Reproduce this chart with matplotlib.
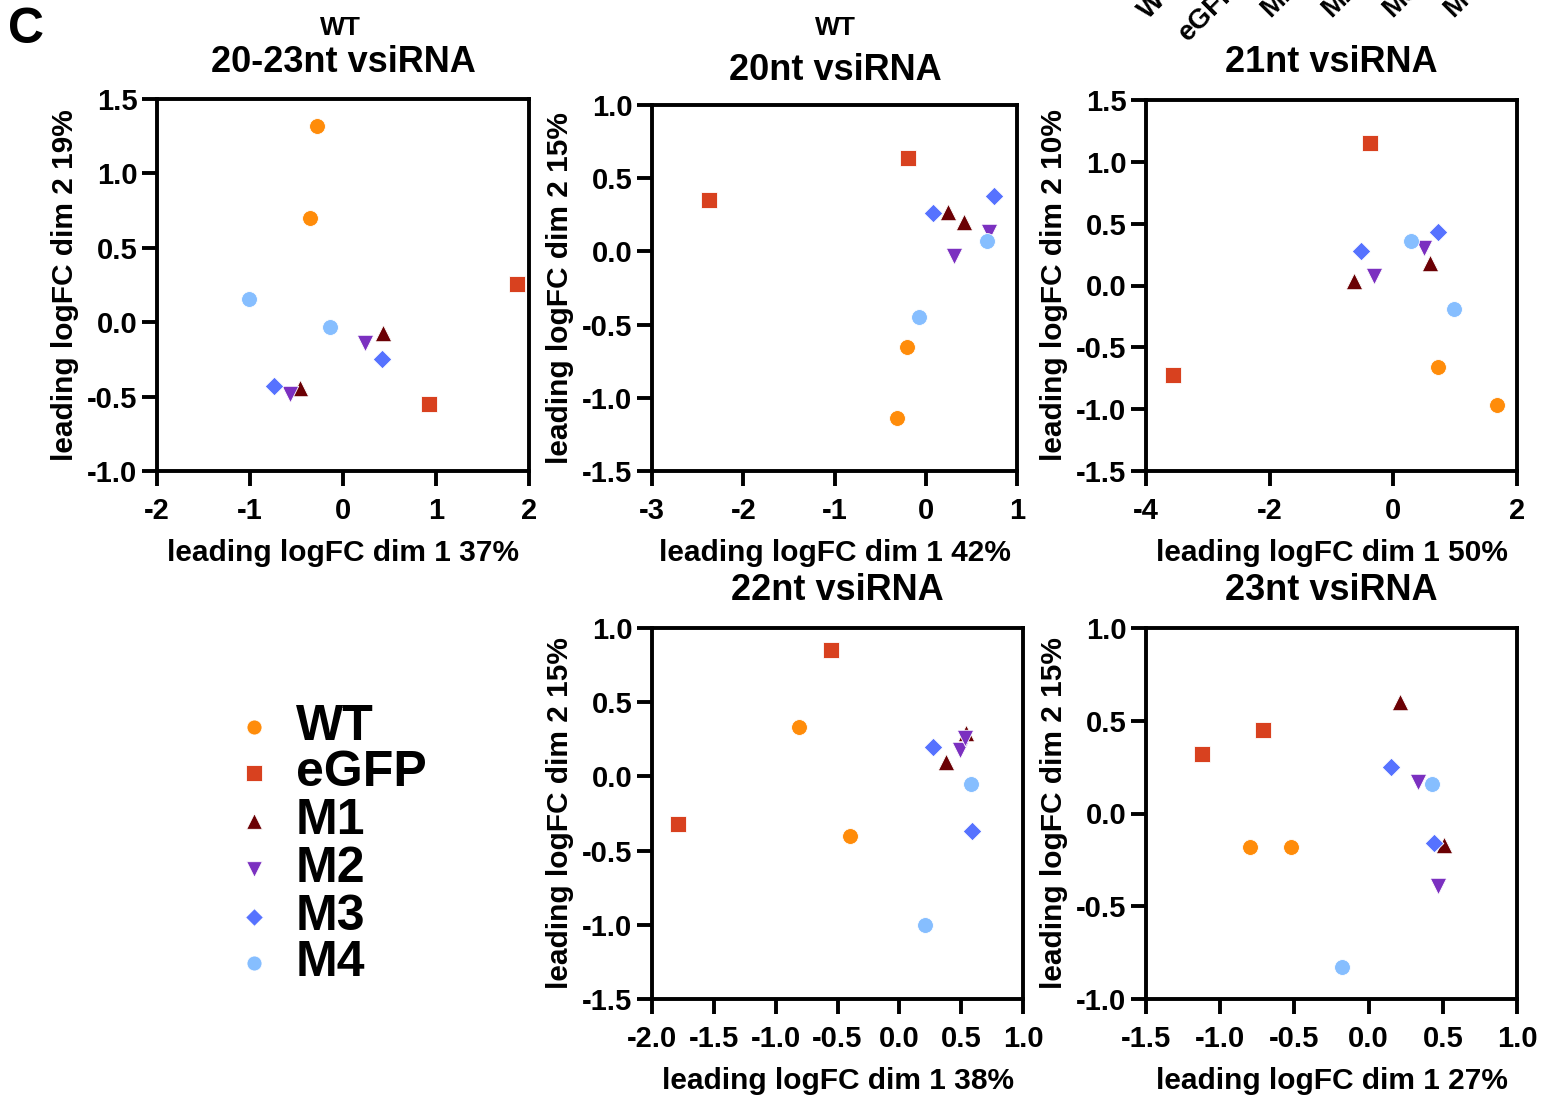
import numpy as np
import matplotlib.pyplot as plt

plt.rcParams['font.family'] = ['Liberation Sans', 'DejaVu Sans']
plt.rcParams['font.weight'] = 'bold'

W, H = 1559, 1098

groups = ['WT', 'eGFP', 'M1', 'M2', 'M3', 'M4']
colors = ['#FF8C0A', '#D8411F', '#6B0004', '#7B30C0', '#5672FF', '#86BEFF']
markers = ['o', 's', '^', 'v', 'D', 'o']
msizes = [130, 130, 140, 140, 90, 130]

# two replicates per group, (x, y) for each panel
all_x = {'WT': [-0.28, -0.36], 'eGFP': [1.87, 0.93], 'M1': [0.43, -0.46],
         'M2': [0.24, -0.57], 'M3': [0.42, -0.74], 'M4': [-1.01, -0.14]}
all_y = {'WT': [1.32, 0.70], 'eGFP': [0.255, -0.55], 'M1': [-0.07, -0.44],
         'M2': [-0.14, -0.48], 'M3': [-0.25, -0.43], 'M4': [0.155, -0.03]}

nt20_x = {'WT': [-0.21, -0.31], 'eGFP': [-2.38, -0.19], 'M1': [0.24, 0.42],
          'M2': [0.31, 0.69], 'M3': [0.08, 0.75], 'M4': [0.67, -0.07]}
nt20_y = {'WT': [-0.655, -1.14], 'eGFP': [0.35, 0.64], 'M1': [0.27, 0.20],
          'M2': [-0.03, 0.13], 'M3': [0.26, 0.38], 'M4': [0.07, -0.45]}

nt21_x = {'WT': [0.73, 1.67], 'eGFP': [-0.38, -3.56], 'M1': [-0.64, 0.60],
          'M2': [0.50, -0.32], 'M3': [-0.53, 0.72], 'M4': [0.29, 0.98]}
nt21_y = {'WT': [-0.66, -0.965], 'eGFP': [1.15, -0.72], 'M1': [0.04, 0.185],
          'M2': [0.30, 0.08], 'M3': [0.28, 0.43], 'M4': [0.36, -0.19]}

nt22_x = {'WT': [-0.81, -0.40], 'eGFP': [-0.55, -1.79], 'M1': [0.375, 0.54],
          'M2': [0.49, 0.53], 'M3': [0.27, 0.59], 'M4': [0.58, 0.21]}
nt22_y = {'WT': [0.33, -0.40], 'eGFP': [0.85, -0.32], 'M1': [0.10, 0.29],
          'M2': [0.18, 0.26], 'M3': [0.20, -0.37], 'M4': [-0.05, -1.0]}

nt23_x = {'WT': [-0.80, -0.52], 'eGFP': [-1.12, -0.71], 'M1': [0.21, 0.51],
          'M2': [0.33, 0.47], 'M3': [0.15, 0.44], 'M4': [0.425, -0.18]}
nt23_y = {'WT': [-0.18, -0.18], 'eGFP': [0.32, 0.45], 'M1': [0.60, -0.17],
          'M2': [0.17, -0.39], 'M3': [0.25, -0.16], 'M4': [0.16, -0.83]}

panels = [
    # data x, data y, px box (l, t, r, b), xlim, ylim, xticks, yticks, xlabel, ylabel
    (all_x, all_y, (157, 99, 529, 471), (-2, 2), (-1.0, 1.5),
     [-2, -1, 0, 1, 2], [-1.0, -0.5, 0.0, 0.5, 1.0, 1.5],
     'leading logFC dim 1 37%', 'leading logFC dim 2 19%'),
    (nt20_x, nt20_y, (652, 105, 1017, 471), (-3, 1), (-1.5, 1.0),
     [-3, -2, -1, 0, 1], [-1.5, -1.0, -0.5, 0.0, 0.5, 1.0],
     'leading logFC dim 1 42%', 'leading logFC dim 2 15%'),
    (nt21_x, nt21_y, (1146, 100, 1517, 471), (-4, 2), (-1.5, 1.5),
     [-4, -2, 0, 2], [-1.5, -1.0, -0.5, 0.0, 0.5, 1.0, 1.5],
     'leading logFC dim 1 50%', 'leading logFC dim 2 10%'),
    (nt22_x, nt22_y, (652, 628, 1023, 999), (-2.0, 1.0), (-1.5, 1.0),
     [-2.0, -1.5, -1.0, -0.5, 0.0, 0.5, 1.0], [-1.5, -1.0, -0.5, 0.0, 0.5, 1.0],
     'leading logFC dim 1 38%', 'leading logFC dim 2 15%'),
    (nt23_x, nt23_y, (1146, 628, 1517, 999), (-1.5, 1.0), (-1.0, 1.0),
     [-1.5, -1.0, -0.5, 0.0, 0.5, 1.0], [-1.0, -0.5, 0.0, 0.5, 1.0],
     'leading logFC dim 1 27%', 'leading logFC dim 2 15%'),
]

fig = plt.figure(figsize=(W / 100, H / 100), dpi=100)


def fx(x):
    return x / W


def fy(y):
    return 1 - y / H


for px, py, box, xl, yl, xt, yt, xlab, ylab in panels:
    l, t, r, b = box
    ax = fig.add_axes([fx(l), fy(b), (r - l) / W, (b - t) / H])
    for g, c, m, s in zip(groups, colors, markers, msizes):
        ax.scatter(px[g], py[g], c=c, marker=m, s=s, edgecolors='white',
                   linewidths=0.6, zorder=3, clip_on=False)
    ax.set_xlim(xl)
    ax.set_ylim(yl)
    ax.set_xticks(xt)
    ax.set_yticks(yt)
    if isinstance(xt[0], int):
        ax.set_xticklabels([str(v) for v in xt])
    else:
        ax.set_xticklabels(['%.1f' % v for v in xt])
    ax.set_yticklabels(['%.1f' % v for v in yt])
    for sp in ax.spines.values():
        sp.set_linewidth(2.8)
    ax.tick_params(direction='out', length=10.5, width=2.8, labelsize=21)
    ax.tick_params(axis='x', pad=8)
    ax.tick_params(axis='y', pad=3.5)
    for lb in ax.get_xticklabels() + ax.get_yticklabels():
        lb.set_fontweight('bold')
    ax.set_xlabel(xlab, fontsize=21.5, fontweight='bold', labelpad=10)
    ax.set_ylabel(ylab, fontsize=21.5, fontweight='bold', labelpad=6)

# titles
fig.text(fx(340), fy(28), 'WT', fontsize=19, ha='center', va='center', fontweight='bold')
fig.text(fx(343), fy(63), '20-23nt vsiRNA', fontsize=26, ha='center', va='center', fontweight='bold')
fig.text(fx(835), fy(28), 'WT', fontsize=19, ha='center', va='center', fontweight='bold')
fig.text(fx(835), fy(70), '20nt vsiRNA', fontsize=26, ha='center', va='center', fontweight='bold')
fig.text(fx(1331), fy(63), '21nt vsiRNA', fontsize=26, ha='center', va='center', fontweight='bold')
fig.text(fx(837), fy(591), '22nt vsiRNA', fontsize=26, ha='center', va='center', fontweight='bold')
fig.text(fx(1331), fy(591), '23nt vsiRNA', fontsize=26, ha='center', va='center', fontweight='bold')
fig.text(fx(8), fy(30), 'C', fontsize=36, ha='left', va='center', fontweight='bold')

# leftover heatmap column labels at the top edge
top_x = [1148, 1188, 1270, 1331, 1392, 1453]
top_y = [20, 42, 18, 18, 18, 18]
for lab, x0, y0 in zip(groups, top_x, top_y):
    fig.text(fx(x0), fy(y0), lab, fontsize=20, rotation=45, rotation_mode='anchor',
             ha='left', va='baseline', fontweight='bold')

# legend
leg_y = [727, 773, 821, 869, 917, 963]
lax = fig.add_axes([0, 0, 1, 1])
lax.set_xlim(0, W)
lax.set_ylim(H, 0)
lax.axis('off')
for g, c, m, s, y0 in zip(groups, colors, markers, msizes, leg_y):
    lax.scatter([254], [y0], c=c, marker=m, s=s * 0.9, edgecolors='white', linewidths=0.6)
    lax.text(296, y0, g, fontsize=36, ha='left', va='center', fontweight='bold')

fig.savefig('out.png', dpi=100)
